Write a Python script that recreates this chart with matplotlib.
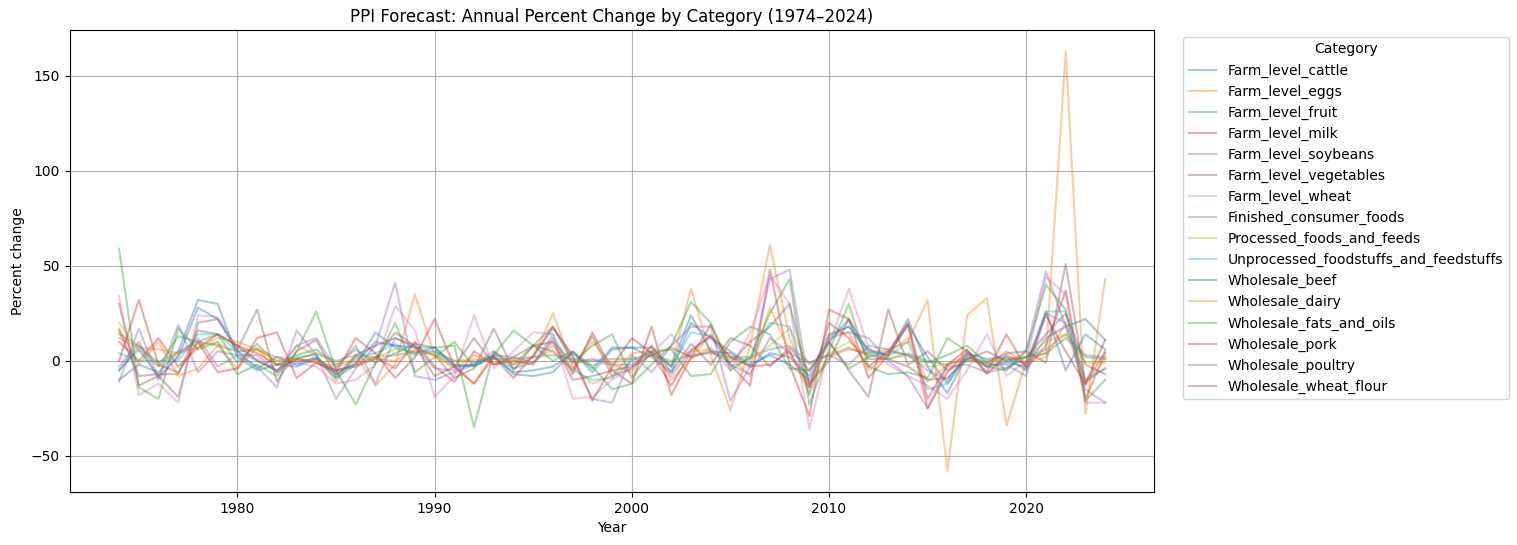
import numpy as np
import pandas as pd
import matplotlib
matplotlib.use('Agg')
import matplotlib.pyplot as plt

years = list(range(1974, 2025))

farm_cattle = [-10, -2, -6, 5, 32, 30, 2, -5, -2, -3, 1, -9, -2, 15, 7, 4, 7, -3, -2, 3,
               -7, -8, -6, 5, -6, 6, 7, 2, -6, 20, 12, 5, -2, 3, -2, -10, 10, 22, 5, 3,
               22, -3, -17, 3, -3, -1, -3, 12, 18, 22, 11]
farm_eggs = [17, -2, 10, -8, -4, 8, -4, 7, -6, 8, 3, -11, 3, -13, -2, 35, 3, -3, -12, 4,
             -2, 2, 25, -3, -12, -8, 4, 5, -3, 38, 3, -26, 8, 61, 12, -12, 2, 6, 4, 6,
             10, 32, -58, 24, 33, -34, 0, 4, 163, -28, 43]
farm_fruit = [-5, 8, -3, 13, 10, 14, -1, 9, -2, 3, 6, -2, 6, -1, 4, 9, 7, 8, -35, 5,
              -2, 8, 18, -1, 8, 14, -9, 5, 6, -8, -7, 10, 18, 14, -4, -5, 10, -4, 2, 5,
              3, -1, 3, 8, -1, -4, 2, 4, 12, 2, 1]
farm_milk = [10, 0, 12, -3, 7, 14, 8, 4, -2, 0, 1, -5, -2, 2, -4, 10, -3, -11, 5, -2,
             0, -2, 12, -7, 15, -5, -12, 18, -18, 2, 19, -2, -13, 48, -2, -29, 27, 22, -9, 3,
             19, -25, -6, 5, -6, 14, -4, 8, 37, -20, 4]
farm_soybeans = [-11, 17, -9, 19, -6, 5, 3, -3, -14, 16, 3, -20, -4, 8, 41, -8, -10, -6, -2, 5,
                 -4, 2, 17, 3, -20, -22, 3, -6, 8, 18, 18, -21, -3, 43, 48, -14, 12, 15, 12, 0,
                 -8, -25, -3, -2, -6, -4, 6, 47, 18, -15, -22]
farm_vegetables = [30, -13, -8, -19, 20, 22, 6, 27, -11, 5, 11, -8, 3, 8, 12, 7, 3, -9, -4, 17,
                   -5, 8, 5, -5, 13, -8, -4, 8, -6, 9, -2, 12, 8, -3, 7, -5, 10, -5, -19, 27,
                   -2, 5, -5, 0, -1, 4, 5, -1, 51, -12, 5]
farm_wheat = [34, -18, -12, -22, 24, 23, 7, 1, -6, -1, -3, -12, -10, -2, 29, 16, -19, -8, 24, -4,
              5, 15, 14, -20, -19, -10, -4, 4, 14, 1, 7, -5, 15, 45, 30, -36, 8, 38, 7, -2,
              -8, -13, -20, -5, 14, -8, 0, 44, 35, -22, -22]
finished_consumer = [14, 8, -1, 5, 10, 8, 5, 6, 2, 1, 4, 0, 3, 2, 3, 5, 5, 0, 0, 1,
                     1, 2, 3, 1, 0, 1, 1, 3, 0, 3, 4, 2, 2, 6, 8, -1, 3, 7, 3, 1,
                     4, 0, -2, 1, 0, 1, 2, 6, 14, 3, 2]
processed_foods = [20, 6, -3, 4, 9, 9, 5, 6, 0, 1, 4, -2, 1, 2, 6, 5, 3, 0, 1, 1,
                   1, 2, 5, 0, -2, -1, 1, 3, -1, 5, 6, 1, 1, 8, 17, -2, 4, 10, 3, 1,
                   3, -3, -2, 1, -1, 1, 2, 10, 14, -1, -1]
unprocessed_foods = [4, 0, 0, 0, 14, 14, 5, 0, -5, 2, 3, -9, 2, 4, 9, 3, 5, -3, -2, 2,
                     -4, -1, 14, -5, -10, -9, 0, 5, -3, 15, 13, -3, 1, 20, 18, -18, 13, 18, 4, 2,
                     10, -15, -12, 2, -3, 0, -1, 26, 26, -11, -4]
wholesale_beef = [-5, 6, -8, 2, 28, 22, 5, -4, 2, -2, 2, -7, -1, 10, 8, 7, 7, -2, -3, 2,
                  -6, -5, -3, 4, -4, 7, 7, 7, -3, 24, 5, 4, -3, 4, 2, -8, 14, 18, 6, 3,
                  19, 2, -12, 4, 1, 2, -5, 26, -5, 14, 6]
wholesale_dairy = [12, 7, 6, 4, 7, 12, 10, 6, 0, 1, 0, -3, 0, 1, 0, 6, 3, -4, 3, -1,
                   0, -1, 8, -4, 10, -2, -6, 8, -10, 1, 14, 2, -8, 28, 5, -17, 14, 15, -5, 4,
                   12, -11, -2, 3, -3, 5, -1, 2, 20, -13, 1]
wholesale_fats = [59, -14, -20, 17, 6, 10, -7, -2, -8, 5, 26, -5, -23, -1, 20, -6, 2, 10, -3, 3,
                  16, 8, 0, 5, -3, -15, -12, -2, 8, 31, 20, -5, 2, 25, 43, -23, 5, 30, -3, -7,
                  -6, -9, 12, 5, -3, -5, 5, 40, 27, -21, -10]
wholesale_pork = [0, 32, -2, -6, 10, -6, -4, 12, 15, -9, -1, -6, 12, 4, -9, 2, 22, -3, -12, 2,
                  -9, 3, 18, 2, -21, -3, 12, 4, -13, 5, 13, 2, -3, -2, 5, -14, 20, 12, -3, 5,
                  20, -20, -2, 6, -7, 3, -2, 24, 5, -12, 11]
wholesale_poultry = [-3, 10, -10, 3, 12, -3, 3, 3, -6, 8, 12, -4, 8, -12, 12, 8, -4, -5, -1, 3,
                     2, -1, 10, -1, 1, -2, -2, 5, -8, 6, 13, -2, -7, 12, 4, -1, 3, -2, 8, 6,
                     3, -5, -10, 4, -2, -2, -8, 25, 20, -10, -4]
wholesale_flour = [16, -8, -7, -7, 16, 14, 8, 0, -5, 1, -1, -5, -3, 1, 15, 8, -8, -3, 12, -2,
                   2, 8, 10, -10, -8, -5, -3, 3, 7, 2, 5, -1, 10, 18, 30, -12, 0, 22, 1, 1,
                   -3, -10, -9, 1, 5, 0, 2, 14, 25, -2, -7]

series = {
    'Farm_level_cattle': farm_cattle,
    'Farm_level_eggs': farm_eggs,
    'Farm_level_fruit': farm_fruit,
    'Farm_level_milk': farm_milk,
    'Farm_level_soybeans': farm_soybeans,
    'Farm_level_vegetables': farm_vegetables,
    'Farm_level_wheat': farm_wheat,
    'Finished_consumer_foods': finished_consumer,
    'Processed_foods_and_feeds': processed_foods,
    'Unprocessed_foodstuffs_and_feedstuffs': unprocessed_foods,
    'Wholesale_beef': wholesale_beef,
    'Wholesale_dairy': wholesale_dairy,
    'Wholesale_fats_and_oils': wholesale_fats,
    'Wholesale_pork': wholesale_pork,
    'Wholesale_poultry': wholesale_poultry,
    'Wholesale_wheat_flour': wholesale_flour,
}

df = pd.DataFrame(series, index=years)

fig, ax = plt.subplots(figsize=(15.17, 5.45), dpi=100)
for name in df.columns:
    ax.plot(df.index, df[name], label=name, alpha=0.4, linewidth=1.5)

ax.set_title('PPI Forecast: Annual Percent Change by Category (1974\u20132024)')
ax.set_xlabel('Year')
ax.set_ylabel('Percent change')
ax.grid(True)
ax.legend(title='Category', loc='upper left', bbox_to_anchor=(1.02, 1))
fig.subplots_adjust(left=0.046, right=0.761, top=0.945, bottom=0.097)
fig.savefig('out.png')
